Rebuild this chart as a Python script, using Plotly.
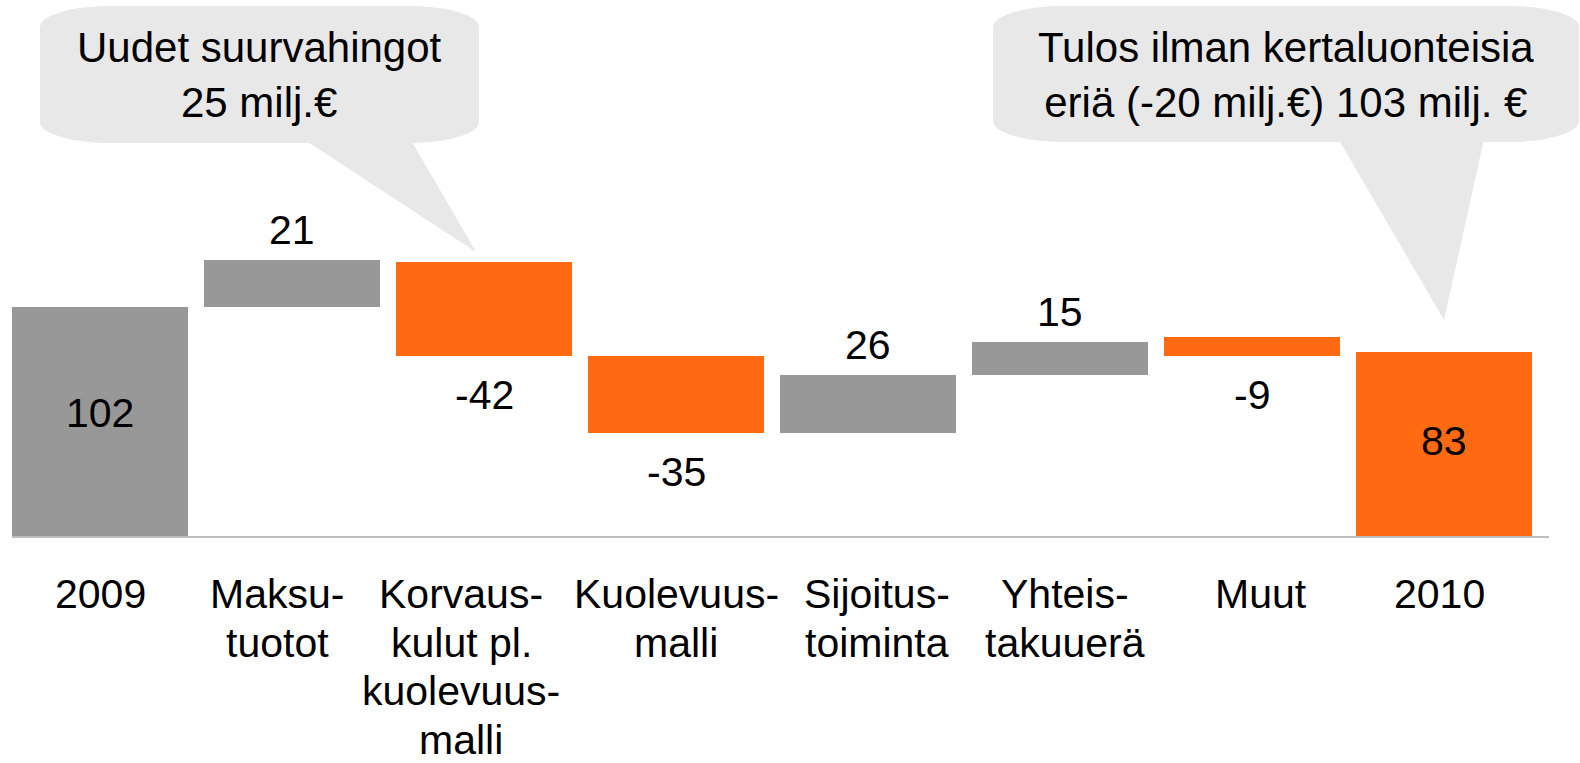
import plotly.graph_objects as go

# ---------------- data ----------------
categories = ["2009", "Maksu-<br>tuotot", "Korvaus-<br>kulut pl.<br>kuolevuus-<br>malli",
              "Kuolevuus-<br>malli", "Sijoitus-<br>toiminta", "Yhteis-<br>takuuerä", "Muut", "2010"]
value_labels = [102, 21, -42, -35, 26, 15, -9, 83]
bar_bottom = [0, 102, 80.4, 45.8, 45.8, 71.9, 80.4, 0]
bar_top = [102, 123.1, 122.2, 80.4, 71.9, 86.7, 88.9, 82.2]
bar_kind = ["total", "up", "down", "down", "up", "up", "down", "result"]
callout_left = "Uudet suurvahingot<br>25 milj.€"
callout_right = "Tulos ilman kertaluonteisia<br>eriä (-20 milj.€) 103 milj. €"

# ---------------- style ----------------
GRAY = "#989898"
ORANGE = "#FF6A13"
BUBBLE = "#E8E8E8"
FONT = "Liberation Sans, Arial, sans-serif"
FS = 41
W, H = 1580, 763
ML, MR, MT, MB = 12, 31, 0, 227
PW, PH = W - ML - MR, H - MT - MB
label_xshift = [0, -15, -23, 0, 9, 5, 9, -5]
inside_yshift = {"total": 9, "result": 3}
color_of = {"total": GRAY, "up": GRAY, "down": ORANGE, "result": ORANGE}
LABEL_TOP = 594
LABEL_STEP = 48.5


def X(px):
    return (px - ML) / PW


def Y(py):
    return (H - MB - py) / PH


n = len(categories)
idx = list(range(n))
fig = go.Figure()
fig.add_trace(go.Bar(
    x=idx,
    y=[t - b for t, b in zip(bar_top, bar_bottom)],
    base=bar_bottom,
    width=0.917,
    marker=dict(color=[color_of[k] for k in bar_kind], line=dict(width=0)),
    hoverinfo="skip",
))

ann = []
# value labels
for i in idx:
    k = bar_kind[i]
    txt = str(value_labels[i])
    if k in ("total", "result"):
        ann.append(dict(x=i, y=(bar_top[i] + bar_bottom[i]) / 2, xref="x", yref="y",
                        text=txt, showarrow=False, yanchor="middle", yshift=inside_yshift[k]))
    elif k == "up":
        ann.append(dict(x=i, y=bar_top[i], xref="x", yref="y", text=txt,
                        showarrow=False, yanchor="middle", yshift=30))
    else:
        ann.append(dict(x=i, y=bar_bottom[i], xref="x", yref="y", text=txt,
                        showarrow=False, yanchor="middle", yshift=-39))

# category labels (one annotation per line for tight line spacing)
for i, cat in enumerate(categories):
    for j, line in enumerate(cat.split("<br>")):
        ann.append(dict(x=i, y=Y(LABEL_TOP + j * LABEL_STEP), xref="x", yref="paper", text=line,
                        showarrow=False, yanchor="middle", xshift=label_xshift[i],
                        borderpad=0))

# callout texts
ann.append(dict(x=X(259), y=Y(75), xref="paper", yref="paper", text=callout_left,
                showarrow=False, yanchor="middle", xanchor="center", font=dict(size=42)))
ann.append(dict(x=X(1286), y=Y(75), xref="paper", yref="paper", text=callout_right,
                showarrow=False, yanchor="middle", xanchor="center", font=dict(size=42)))


def pt(px, py):
    return f"{X(px):.5f},{Y(py):.5f}"


def round_rect(x0, y0, x1, y1, rx, ry):
    k = 0.5523
    p = [
        f"M{pt(x0 + rx, y0)}",
        f"L{pt(x1 - rx, y0)}",
        f"C{pt(x1 - rx + k * rx, y0)} {pt(x1, y0 + ry - k * ry)} {pt(x1, y0 + ry)}",
        f"L{pt(x1, y1 - ry)}",
        f"C{pt(x1, y1 - ry + k * ry)} {pt(x1 - rx + k * rx, y1)} {pt(x1 - rx, y1)}",
        f"L{pt(x0 + rx, y1)}",
        f"C{pt(x0 + rx - k * rx, y1)} {pt(x0, y1 - ry + k * ry)} {pt(x0, y1 - ry)}",
        f"L{pt(x0, y0 + ry)}",
        f"C{pt(x0, y0 + ry - k * ry)} {pt(x0 + rx - k * rx, y0)} {pt(x0 + rx, y0)}",
        "Z",
    ]
    return " ".join(p)


def tri(a, b, c):
    return f"M{pt(*a)} L{pt(*b)} L{pt(*c)} Z"


shapes = [
    dict(type="path", xref="paper", yref="paper", path=round_rect(40, 6, 479, 143, 70, 21),
         fillcolor=BUBBLE, line=dict(width=0), layer="below"),
    dict(type="path", xref="paper", yref="paper", path=tri((297, 135), (408, 135), (476, 252)),
         fillcolor=BUBBLE, line=dict(width=0), layer="below"),
    dict(type="path", xref="paper", yref="paper", path=round_rect(993, 6, 1579, 142, 70, 21),
         fillcolor=BUBBLE, line=dict(width=0), layer="below"),
    dict(type="path", xref="paper", yref="paper", path=tri((1336, 135), (1485, 135), (1444, 320)),
         fillcolor=BUBBLE, line=dict(width=0), layer="below"),
]

fig.update_layout(
    width=W, height=H,
    margin=dict(l=ML, r=MR, t=MT, b=MB, pad=0),
    paper_bgcolor="white", plot_bgcolor="white",
    showlegend=False,
    font=dict(family=FONT, size=FS, color="black"),
    xaxis=dict(range=[-0.46, 7.545], showgrid=False, zeroline=False, showticklabels=False,
               ticks="", showline=True, linecolor="#BDBDBD", linewidth=2, fixedrange=True),
    yaxis=dict(range=[0, PH / 2.2427], showgrid=False, zeroline=False, showticklabels=False,
               ticks="", showline=False, fixedrange=True),
    annotations=ann,
    shapes=shapes,
    bargap=0,
)

fig.write_html(
    "out.html",
    config={"displayModeBar": False},
    post_script="document.body.style.margin='0';document.body.style.overflow='hidden';",
)
